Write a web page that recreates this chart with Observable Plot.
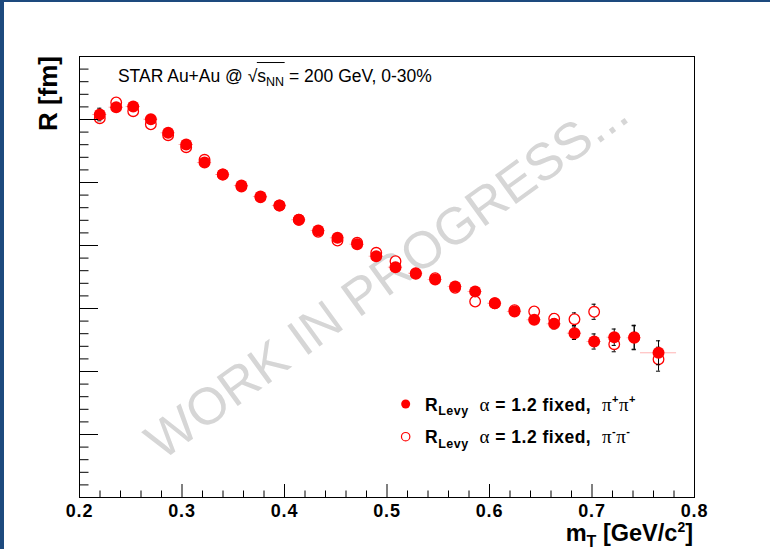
<!DOCTYPE html>
<html><head><meta charset="utf-8">
<script src="https://cdn.jsdelivr.net/npm/d3@7"></script>
<script src="https://cdn.jsdelivr.net/npm/@observablehq/plot@0.6"></script>
<style>
body{margin:0;background:#fff;}
#wrap{position:relative;width:770px;height:549px;overflow:hidden;background:#fff;}
#bl{position:absolute;left:0;top:0;width:4px;height:549px;background:#1d4a7e;}
#bt{position:absolute;left:0;top:0;width:770px;height:2px;background:#1d4a7e;}
</style></head><body>
<div id="wrap"><div id="chart"></div><div id="bl"></div><div id="bt"></div></div>
<script>
// ---- data ----
const mT = [0.2198,0.2358,0.2524,0.2696,0.2865,0.3041,0.3220,0.3398,0.3580,0.3766,
            0.3951,0.4140,0.4329,0.4517,0.4709,0.4895,0.5083,0.5281,0.5470,0.5665,
            0.5860,0.6052,0.6244,0.6436,0.6631,0.6829,0.7021,0.7217,0.7412,0.7649];
const mTErr = [0.007,0.007,0.007,0.007,0.007,0.007,0.007,0.007,0.007,0.007,
               0.007,0.007,0.007,0.007,0.007,0.007,0.007,0.007,0.007,0.007,
               0.007,0.007,0.007,0.007,0.007,0.007,0.007,0.007,0.007,0.0176];
const rPiPlus = [6.079,6.195,6.206,6.005,5.789,5.603,5.317,5.127,4.952,4.778,
                 4.635,4.408,4.238,4.122,4.021,3.830,3.656,3.560,3.460,3.349,
                 3.270,3.084,2.952,2.821,2.757,2.608,2.476,2.544,2.535,2.297];
const rPiPlusErr = [0.10,0.04,0.04,0.04,0.04,0.04,0.04,0.04,0.04,0.04,
                    0.04,0.04,0.04,0.04,0.04,0.04,0.04,0.04,0.04,0.04,
                    0.05,0.05,0.05,0.06,0.08,0.10,0.12,0.13,0.19,0.19];
const rPiMinus = [6.021,6.270,6.132,5.925,5.751,5.560,5.360,5.127,4.937,4.767,
                  4.635,4.408,4.217,4.079,4.043,3.884,3.751,3.551,3.481,3.329,
                  3.111,3.084,2.973,2.952,2.837,2.830,2.948,2.433,2.544,2.195];
const rPiMinusErr = [0.05,0.04,0.04,0.04,0.04,0.04,0.04,0.04,0.04,0.04,
                     0.04,0.04,0.04,0.04,0.04,0.04,0.04,0.04,0.04,0.04,
                     0.05,0.05,0.05,0.06,0.08,0.10,0.12,0.12,0.19,0.19];
const xTickValues = [0.2,0.3,0.4,0.5,0.6,0.7,0.8];
const xTickLabels = ["0.2","0.3","0.4","0.5","0.6","0.7","0.8"];
const yTickValues = [0,1,2,3,4,5,6,7];
const xDomain = [0.2, 0.8];
const yDomain = [0, 7];

// ---- layout ----
const W = 770, H = 549, mL = 79, mR = 76, mTop = 56, mB = 52;
const plotW = W - mL - mR, plotH = H - mTop - mB;
const RED = "#ff0000";
const capHalf = 0.002;

const pts = mT.map((x, i) => ({x, xe: mTErr[i], yp: rPiPlus[i], ep: rPiPlusErr[i], ym: rPiMinus[i], em: rPiMinusErr[i]}));
const xMinor = d3.range(0.2, 0.8001, 0.02).filter(v => !xTickValues.some(t => Math.abs(t - v) < 1e-6));
const yMinor = d3.range(0, 7.001, 0.2).filter(v => !yTickValues.some(t => Math.abs(t - v) < 1e-6));

const plot = Plot.plot({
  width: W, height: H,
  marginLeft: mL, marginRight: mR, marginTop: mTop, marginBottom: mB,
  x: {domain: xDomain, axis: null},
  y: {domain: yDomain, axis: null},
  style: {background: "white", fontFamily: "'Liberation Sans', Arial, Helvetica, sans-serif", overflow: "visible"},
  marks: [
    Plot.text(["WORK IN PROGRESS..."], {frameAnchor: "middle", rotate: -36, fontSize: 52, fill: "#d6d6d6", text: d => d}),
    // pi- error bars
    Plot.ruleX(pts, {x: "x", y1: d => d.ym - d.em, y2: d => d.ym + d.em, stroke: "black"}),
    Plot.ruleY(pts, {y: d => d.ym - d.em, x1: d => d.x - capHalf, x2: d => d.x + capHalf, stroke: "black"}),
    Plot.ruleY(pts, {y: d => d.ym + d.em, x1: d => d.x - capHalf, x2: d => d.x + capHalf, stroke: "black"}),
    Plot.dot(pts, {x: "x", y: "ym", r: 5.3, stroke: RED, strokeWidth: 1.3, fill: "white"}),
    // pi+ bin-width lines and error bars
    Plot.ruleY(pts, {y: "yp", x1: d => d.x - d.xe, x2: d => d.x + d.xe, stroke: RED, strokeOpacity: 0.3}),
    Plot.ruleX(pts, {x: "x", y1: d => d.yp - d.ep, y2: d => d.yp + d.ep, stroke: "black"}),
    Plot.ruleY(pts, {y: d => d.yp - d.ep, x1: d => d.x - capHalf, x2: d => d.x + capHalf, stroke: "black"}),
    Plot.ruleY(pts, {y: d => d.yp + d.ep, x1: d => d.x - capHalf, x2: d => d.x + capHalf, stroke: "black"}),
    Plot.dot(pts, {x: "x", y: "yp", r: 6, fill: RED}),
    // ticks (inside frame)
    Plot.tickX(xTickValues, {x: d => d, insetTop: plotH - 13, stroke: "black"}),
    Plot.tickX(xMinor, {x: d => d, insetTop: plotH - 6.5, stroke: "black"}),
    Plot.tickY(yTickValues, {y: d => d, insetRight: plotW - 19, stroke: "black"}),
    Plot.tickY(yMinor, {y: d => d, insetRight: plotW - 9.5, stroke: "black"}),
    Plot.frame({stroke: "black", strokeWidth: 1}),
    // x tick labels
    Plot.text(xTickValues, {x: d => d, frameAnchor: "bottom", dy: 19, lineAnchor: "bottom",
      text: (d, i) => xTickLabels[i], fontWeight: "bold", fontSize: 18, fill: "black"})
  ]
});
document.getElementById("chart").appendChild(plot);
d3.select(plot).selectAll("text").filter(function() { return xTickLabels.includes(this.textContent); })
  .attr("letter-spacing", 0.8);

// ---- rich texts (titles, annotation, legend) ----
const svg = d3.select(plot);
const sx = plot.scale("x"), sy = plot.scale("y");
const FONT = "'Liberation Sans', Arial, Helvetica, sans-serif";
const GREEK = "'Liberation Serif', 'DejaVu Serif', serif";

function rich(x, y, parts, opts = {}) {
  const t = svg.append("text").attr("x", x).attr("y", y)
    .attr("font-family", FONT).attr("font-size", opts.size || 17)
    .attr("font-weight", opts.weight || "normal").attr("fill", "black")
    .attr("text-anchor", opts.anchor || "start");
  if (opts.transform) t.attr("transform", opts.transform);
  if (opts.spacing) t.attr("letter-spacing", opts.spacing);
  for (const p of parts) {
    const s = t.append("tspan").text(p.t);
    if (p.dy) s.attr("dy", p.dy);
    if (p.size) s.attr("font-size", p.size);
    if (p.family) s.attr("font-family", p.family);
    if (p.weight) s.attr("font-weight", p.weight);
  }
  return t;
}

// y title
rich(0, 0, [{t: "R [fm]"}], {size: 26, weight: "bold", anchor: "end", transform: `translate(56.5,${mTop}) rotate(-90)`});
// x title
rich(W - mR - 1, 541, [{t: "m"}, {t: "T", size: 16, dy: 6}, {t: " [GeV/c", dy: -6}, {t: "2", size: 14, dy: -9}, {t: "]", dy: 9}],
  {size: 23.5, weight: "bold", anchor: "end"});

// annotation
const annX = sx.apply(0.238), annY = sy.apply(6.587);
const ann = rich(annX, annY, [{t: "STAR Au+Au @ "}, {t: "√"}, {t: "s"}, {t: "NN", size: 12.5, dy: 4}, {t: " = 200 GeV, 0-30%", dy: -4}], {size: 17.5});
{
  const el = ann.node();
  const x0 = el.getEndPositionOfChar(13).x - 0.5;
  const x1 = el.getEndPositionOfChar(16).x + 0.5;
  svg.append("line").attr("x1", x0).attr("x2", x1).attr("y1", annY - 19.5).attr("y2", annY - 19.5)
    .attr("stroke", "black").attr("stroke-width", 1);
}

// legend
const legX = sx.apply(0.5187), legTX = sx.apply(0.5376);
const legRows = [sy.apply(1.476), sy.apply(0.957)];
svg.append("circle").attr("cx", legX).attr("cy", legRows[0]).attr("r", 4.5).attr("fill", RED);
svg.append("circle").attr("cx", legX).attr("cy", legRows[1]).attr("r", 4.2).attr("fill", "white").attr("stroke", RED).attr("stroke-width", 1.2);
const signs = ["+", "-"];
legRows.forEach((ly, i) => {
  rich(legTX, ly + 6.5, [
    {t: "R"}, {t: "Levy", size: 12.5, dy: 4.5}, {t: "  ", dy: -4.5},
    {t: "α", family: GREEK, weight: "normal", size: 19},
    {t: " = 1.2 fixed,  "},
    {t: "π", family: GREEK, weight: "normal", size: 19},
    {t: signs[i], size: 11, dy: -8},
    {t: "π", family: GREEK, weight: "normal", size: 19, dy: 8},
    {t: signs[i], size: 11, dy: -8}
  ], {size: 17.5, weight: "bold", spacing: 0.5});
});
</script>
</body></html>
